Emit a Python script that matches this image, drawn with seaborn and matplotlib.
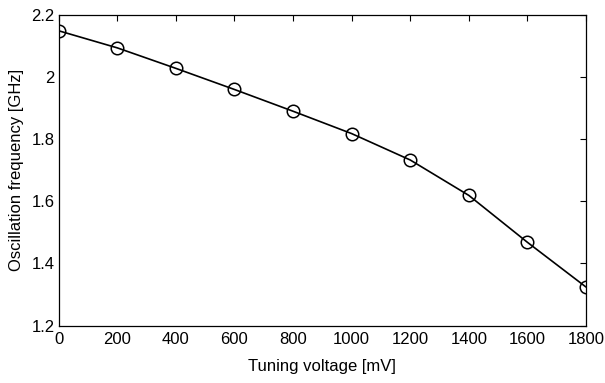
import pandas as pd
import seaborn as sns
import matplotlib
matplotlib.use("Agg")
import matplotlib.pyplot as plt

# Dati
voltage_mv = [0, 200, 400, 600, 800, 1000, 1200, 1400, 1600, 1800]
freq_ghz = [2.149, 2.094, 2.028, 1.960, 1.890, 1.818, 1.733, 1.619, 1.468, 1.324]
x_ticks = [0, 200, 400, 600, 800, 1000, 1200, 1400, 1600, 1800]
y_ticks = [1.2, 1.4, 1.6, 1.8, 2.0, 2.2]
y_tick_labels = ["1.2", "1.4", "1.6", "1.8", "2", "2.2"]

df = pd.DataFrame({"voltage": voltage_mv, "freq": freq_ghz})

sns.set_style("white")
plt.rcParams["font.family"] = ["Liberation Sans", "DejaVu Sans"]

fig = plt.figure(figsize=(6.05, 3.83), dpi=100)
ax = fig.add_axes([0.097, 0.150, 0.8716, 0.811])

sns.lineplot(data=df, x="voltage", y="freq", ax=ax, color="black",
             linewidth=1.2, marker="o", markersize=9, markerfacecolor="none",
             markeredgecolor="black", markeredgewidth=1.1)

ax.set_xlim(0, 1800)
ax.set_ylim(1.2, 2.2)
ax.set_xticks(x_ticks)
ax.set_yticks(y_ticks)
ax.set_yticklabels(y_tick_labels)
ax.tick_params(direction="in", length=4, width=0.8, top=True, right=True,
               labelsize=12, colors="black")
ax.tick_params(axis="x", pad=5)
ax.tick_params(axis="y", pad=3)
for s in ax.spines.values():
    s.set_color("black")
    s.set_linewidth(0.9)

ax.set_xlabel("Tuning voltage [mV]", fontsize=12, labelpad=8, color="black")
ax.set_ylabel("Oscillation frequency [GHz]", fontsize=12, labelpad=5, color="black")

fig.savefig("out.png", dpi=100)
